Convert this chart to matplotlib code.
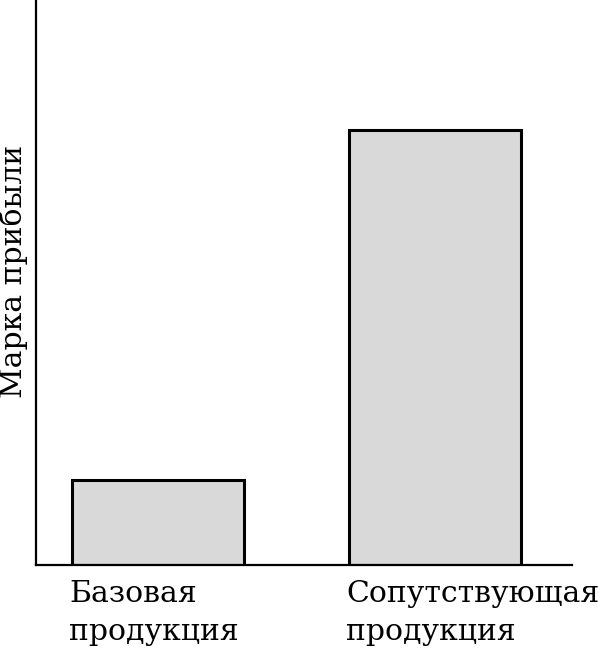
import matplotlib.pyplot as plt

categories = ["Базовая\nпродукция", "Сопутствующая\nпродукция"]
margin = [15.0, 77.0]

plt.rcParams['font.family'] = ['DejaVu Serif']

fig = plt.figure(figsize=(6.01, 6.48), dpi=100)
ax = fig.add_axes([36 / 601, 1 - 565 / 648, 536 / 601, 565 / 648])

x = list(range(len(categories)))
width = 0.62
ax.bar(x, margin, width=width, color="#d9d9d9", edgecolor="black", linewidth=2.2)

ax.set_xlim(-0.44, 1.495)
ax.set_ylim(0, 100)

for s in ["top", "right"]:
    ax.spines[s].set_visible(False)
for s in ["left", "bottom"]:
    ax.spines[s].set_linewidth(1.6)

ax.set_yticks([])
ax.set_xticks([i - width / 2 - 0.01 for i in x])
ax.set_xticklabels(categories, ha="left", fontsize=21.5, linespacing=1.45)
ax.tick_params(axis="x", length=0, pad=11)

ax.set_ylabel("Марка прибыли", fontsize=21.5)
ax.yaxis.set_label_coords(-0.014, 0.52)

fig.savefig("out.png", dpi=100)
